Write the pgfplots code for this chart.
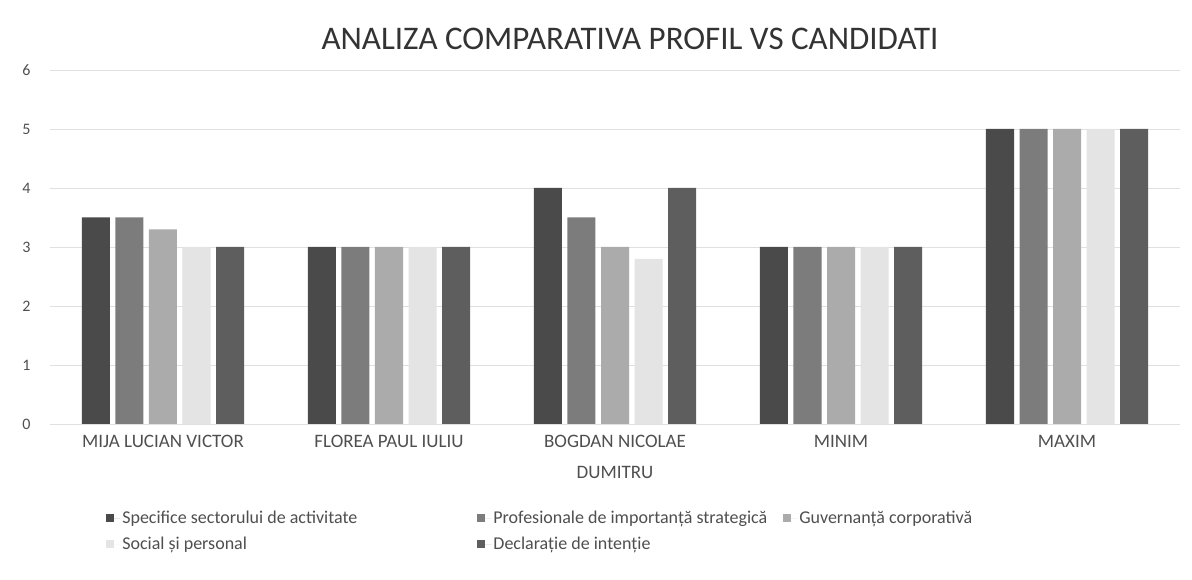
\documentclass[border=0pt]{standalone}
\usepackage{pgfplots}
\pgfplotsset{compat=1.18}
\usepackage{fontspec}
\setmainfont{Carlito}
\definecolor{cA}{HTML}{4A4A4A}
\definecolor{cB}{HTML}{7C7C7C}
\definecolor{cC}{HTML}{ABABAB}
\definecolor{cD}{HTML}{E4E4E4}
\definecolor{cE}{HTML}{5E5E5E}
\definecolor{txt}{HTML}{4F4F4F}
\pgfplotsset{legsq/.style={legend image code/.code={\fill[##1] (0pt,-4pt) rectangle (8pt,4pt); \path (0pt,0pt) -- (14pt,0pt);}}}
\begin{document}
\begin{tikzpicture}
\begin{axis}[
  scale only axis, width=1130pt, height=354pt, clip=false,
  ymin=0, ymax=6, ytick={0,1,...,6},
  xmin=-0.5, xmax=4.5, xtick={0,1,2,3,4},
  xticklabels={MIJA LUCIAN VICTOR, FLOREA PAUL IULIU, {BOGDAN NICOLAE\\DUMITRU}, MINIM, MAXIM},
  xticklabel style={align=center, font=\fontsize{19}{31}\selectfont, text=txt, yshift=-8pt},
  yticklabel style={font=\fontsize{16}{18}\selectfont, text=txt, xshift=-16pt},
  /pgf/number format/assume math mode=true,
  axis line style={draw=none}, major tick length=0pt,
  ymajorgrids, grid style={draw=black!12, line width=0.8pt},
  ybar=5.5pt, bar width=28pt,
  legend columns=3,
  legend style={at={(rel axis cs:0.047,-0.235)}, anchor=north west, draw=none,
    font=\fontsize{18}{20}\selectfont, text=txt, row sep=8pt,
    /tikz/column 2/.style={column sep=118pt},
    /tikz/column 4/.style={column sep=14pt}},
  legend cell align=left,
]
\addplot[fill=cA, draw=none, legsq] coordinates {(0,3.5) (1,3.0) (2,4.0) (3,3.0) (4,5.0)};
\addplot[fill=cB, draw=none, legsq] coordinates {(0,3.5) (1,3.0) (2,3.5) (3,3.0) (4,5.0)};
\addplot[fill=cC, draw=none, legsq] coordinates {(0,3.3) (1,3.0) (2,3.0) (3,3.0) (4,5.0)};
\addplot[fill=cD, draw=none, legsq] coordinates {(0,3.0) (1,3.0) (2,2.8) (3,3.0) (4,5.0)};
\addplot[fill=cE, draw=none, legsq] coordinates {(0,3.0) (1,3.0) (2,4.0) (3,3.0) (4,5.0)};
\legend{Specifice sectorului de activitate, Profesionale de importanță strategică, Guvernanță corporativă, Social și personal, Declarație de intenție}
\node[font=\fontsize{33}{38}\selectfont, text=black!80] at (rel axis cs:0.5,1) [xshift=15pt, yshift=31pt] {ANALIZA COMPARATIVA PROFIL VS CANDIDATI};
\end{axis}
\path (current axis.south west) ++(-50pt,-156pt) rectangle ++(1192pt,580pt);
\end{tikzpicture}
\end{document}
